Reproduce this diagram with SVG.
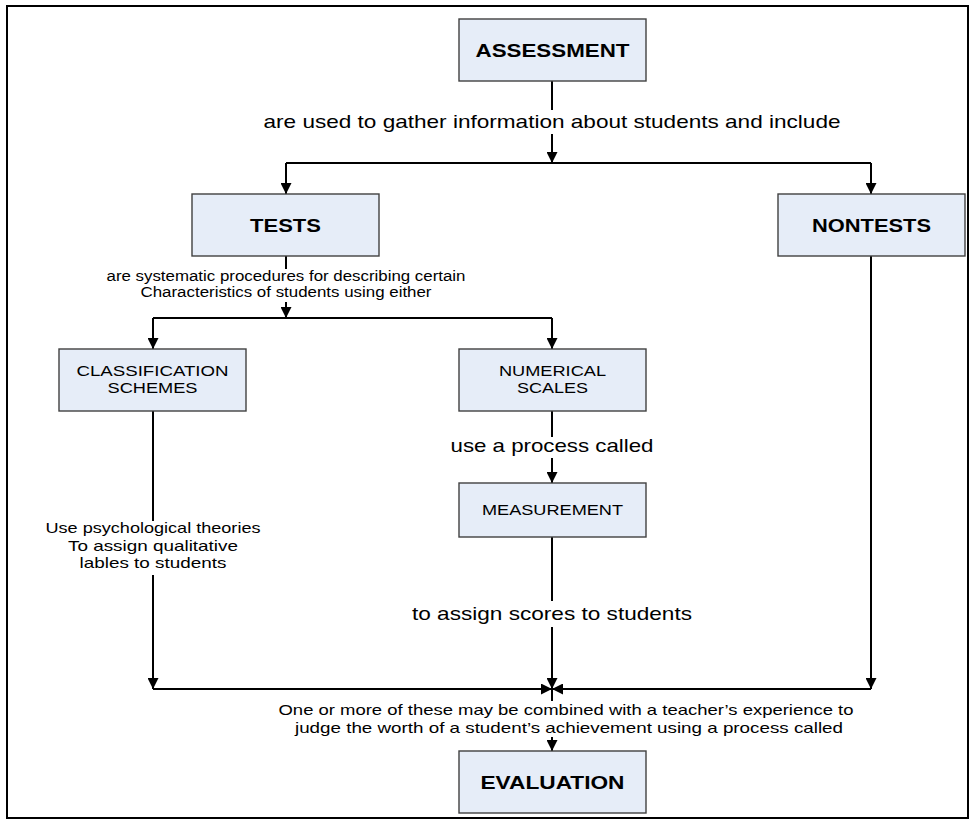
<svg xmlns="http://www.w3.org/2000/svg" width="976" height="821" viewBox="0 0 976 821">
<defs>
<style>
.box{fill:#E6EDF8;stroke:#404040;stroke-width:1.4}
.ttl{font-family:"Liberation Sans",Arial,sans-serif;font-weight:bold;font-size:18.5px;fill:#000;text-anchor:middle}
.lbl{font-family:"Liberation Sans",Arial,sans-serif;fill:#000;text-anchor:middle}
.big{font-size:18.5px}
.sm{font-size:14px}
.md{font-size:15px}
.bx{font-size:14.5px}
.ln{fill:none;stroke:#000;stroke-width:2}
.ar{marker-end:url(#ah)}
</style>
<marker id="ah" viewBox="0 0 10 10" refX="10" refY="5" markerWidth="11" markerHeight="11" markerUnits="userSpaceOnUse" orient="auto">
<path d="M0,0 L10,5 L0,10 z" fill="#000"/>
</marker>
</defs>
<rect x="7" y="6" width="961" height="812" fill="#fff" stroke="#000" stroke-width="2"/>

<g id="connectors">
<path class="ln" d="M552,81 V110"/>
<path class="ln ar" d="M552,134 V163"/>
<path class="ln" d="M286,163 H871"/>
<path class="ln ar" d="M286,163 V194"/>
<path class="ln ar" d="M871,163 V194"/>
<path class="ln" d="M286,256 V269"/>
<path class="ln ar" d="M286,302 V318"/>
<path class="ln" d="M153,318 H552"/>
<path class="ln ar" d="M153,318 V349"/>
<path class="ln ar" d="M552,318 V349"/>
<path class="ln" d="M153,411 V521"/>
<path class="ln ar" d="M153,575 V689"/>
<path class="ln" d="M552,411 V437"/>
<path class="ln ar" d="M552,458 V483"/>
<path class="ln" d="M552,537 V601"/>
<path class="ln ar" d="M552,627 V689"/>
<path class="ln ar" d="M871,256 V689"/>
<path class="ln ar" d="M153,689 H552"/>
<path class="ln ar" d="M871,689 H552"/>
<path class="ln" d="M552,689 V701"/>
<path class="ln ar" d="M552,737 V751"/>
<text class="lbl big" x="552" y="128" textLength="577" lengthAdjust="spacingAndGlyphs">are used to gather information about students and include</text>
<text class="lbl sm" x="286" y="281" textLength="359" lengthAdjust="spacingAndGlyphs">are systematic procedures for describing certain</text>
<text class="lbl sm" x="286" y="297" textLength="291" lengthAdjust="spacingAndGlyphs">Characteristics of students using either</text>
<text class="lbl md" x="153" y="533" textLength="215" lengthAdjust="spacingAndGlyphs">Use psychological theories</text>
<text class="lbl md" x="153" y="551" textLength="170" lengthAdjust="spacingAndGlyphs">To assign qualitative</text>
<text class="lbl md" x="153" y="568" textLength="147" lengthAdjust="spacingAndGlyphs">lables to students</text>
<text class="lbl big" x="552" y="452" textLength="203" lengthAdjust="spacingAndGlyphs">use a process called</text>
<text class="lbl big" x="552" y="620" textLength="280" lengthAdjust="spacingAndGlyphs">to assign scores to students</text>
<text class="lbl md" x="566" y="715" textLength="575" lengthAdjust="spacingAndGlyphs">One or more of these may be combined with a teacher’s experience to</text>
<text class="lbl md" x="569" y="733" textLength="548" lengthAdjust="spacingAndGlyphs">judge the worth of a student’s achievement using a process called</text>
</g>

<g id="assessment">
<rect class="box" x="459" y="19" width="187" height="62"/>
<text class="ttl" x="552.5" y="57" textLength="154" lengthAdjust="spacingAndGlyphs">ASSESSMENT</text>
</g>
<g id="tests">
<rect class="box" x="192" y="194" width="187" height="62"/>
<text class="ttl" x="285.5" y="232" textLength="71" lengthAdjust="spacingAndGlyphs">TESTS</text>
</g>
<g id="nontests">
<rect class="box" x="778" y="194" width="187" height="62"/>
<text class="ttl" x="871.5" y="232" textLength="119" lengthAdjust="spacingAndGlyphs">NONTESTS</text>
</g>
<g id="classification">
<rect class="box" x="59" y="349" width="187" height="62"/>
<text class="lbl bx" x="152.5" y="376" textLength="152" lengthAdjust="spacingAndGlyphs">CLASSIFICATION</text>
<text class="lbl bx" x="152.5" y="393" textLength="90" lengthAdjust="spacingAndGlyphs">SCHEMES</text>
</g>
<g id="numerical">
<rect class="box" x="459" y="349" width="187" height="62"/>
<text class="lbl bx" x="552.5" y="376" textLength="107" lengthAdjust="spacingAndGlyphs">NUMERICAL</text>
<text class="lbl bx" x="552.5" y="393" textLength="71" lengthAdjust="spacingAndGlyphs">SCALES</text>
</g>
<g id="measurement">
<rect class="box" x="459" y="483" width="187" height="54"/>
<text class="lbl bx" x="552.5" y="515" textLength="141" lengthAdjust="spacingAndGlyphs">MEASUREMENT</text>
</g>
<g id="evaluation">
<rect class="box" x="459" y="751" width="187" height="62"/>
<text class="ttl" x="552.5" y="789" textLength="144" lengthAdjust="spacingAndGlyphs">EVALUATION</text>
</g>
</svg>
